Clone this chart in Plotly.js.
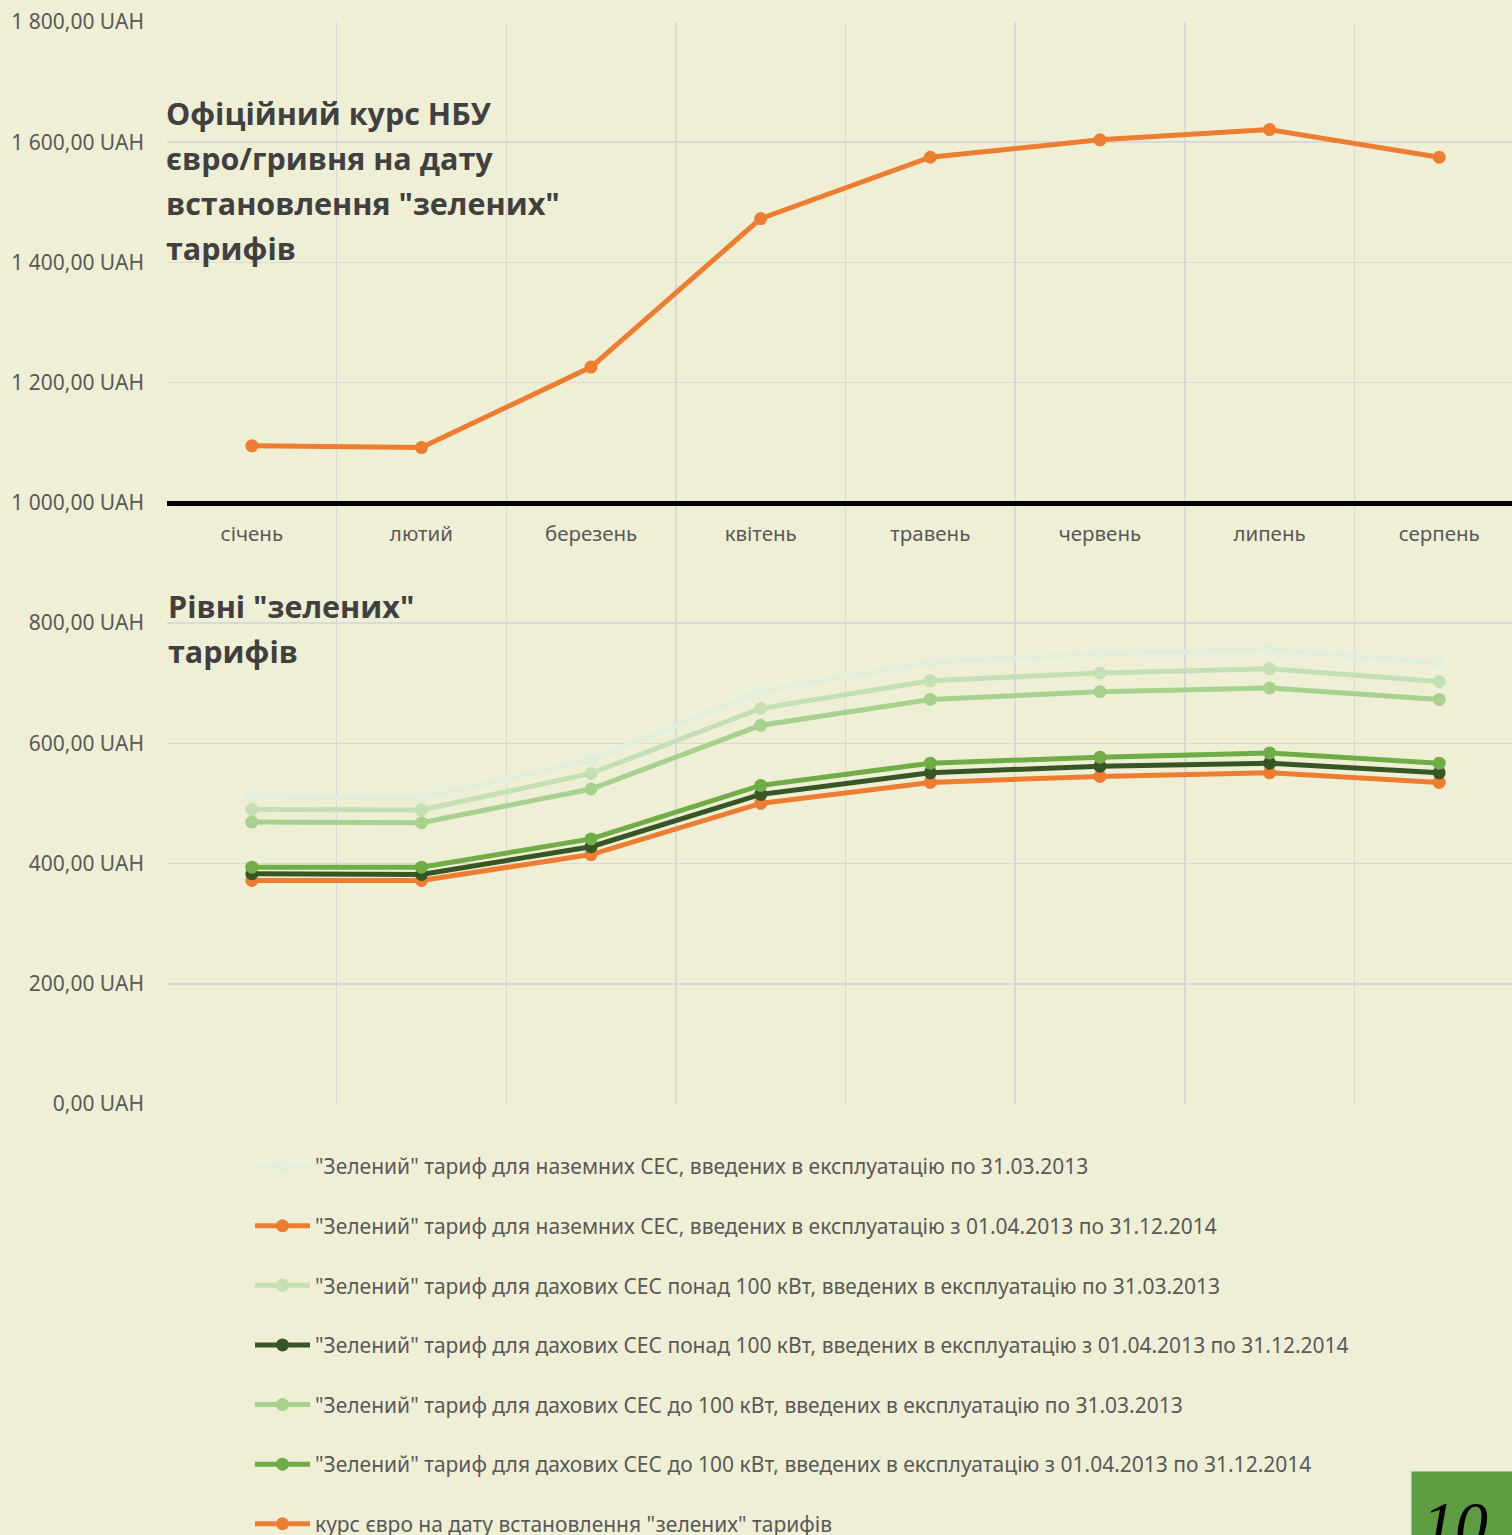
<!DOCTYPE html>
<html>
<head>
<meta charset="utf-8">
<script src="https://cdn.plot.ly/plotly-3.0.1.min.js"></script>
<style>
html,body{margin:0;padding:0;background:#efefd6;overflow:hidden;}
#chart{width:1524px;height:1535px;}
</style>
</head>
<body>
<div id="chart"></div>
<script>
// ---- data ----
const months = ['січень','лютий','березень','квітень','травень','червень','липень','серпень'];
const groundOld = [511, 509, 572, 687, 735, 749, 756, 734];
const groundNew = [372, 372, 415, 500, 535, 545, 551, 535];
const roofBigOld = [490, 489, 550, 658, 704, 717, 724, 703];
const roofBigNew = [383, 382, 428, 515, 551, 562, 567, 551];
const roofSmallOld = [469, 468, 524, 630, 673, 686, 692, 673];
const roofSmallNew = [394, 394, 441, 530, 567, 577, 584, 567];
const euroRate = [1095, 1092, 1226, 1473, 1575, 1604, 1621, 1575];

const seriesNames = [
  '"Зелений" тариф для наземних СЕС, введених в експлуатацію по 31.03.2013',
  '"Зелений" тариф для наземних СЕС, введених в експлуатацію з 01.04.2013 по 31.12.2014',
  '"Зелений" тариф для дахових СЕС понад 100 кВт, введених в експлуатацію по 31.03.2013',
  '"Зелений" тариф для дахових СЕС понад 100 кВт, введених в експлуатацію з 01.04.2013 по 31.12.2014',
  '"Зелений" тариф для дахових СЕС до 100 кВт, введених в експлуатацію по 31.03.2013',
  '"Зелений" тариф для дахових СЕС до 100 кВт, введених в експлуатацію з 01.04.2013 по 31.12.2014',
  'курс євро на дату встановлення "зелених" тарифів'
];
const seriesValues = [groundOld, groundNew, roofBigOld, roofBigNew, roofSmallOld, roofSmallNew, euroRate];
const seriesColors = ['#e2efda', '#ed7d31', '#c5e0b4', '#375623', '#a9d18e', '#70ad47', '#ed7d31'];

const titleTopLines = ['Офіційний курс НБУ', 'євро/гривня на дату', 'встановлення "зелених"', 'тарифів'];
const titleBottomLines = ['Рівні "зелених"', 'тарифів'];
const pageNumber = '10';

// ---- layout constants ----
const W = 1524, H = 1535;
const mL = 167, mR = 0, mT = 22, mB = 431;
const plotW = W - mL - mR, plotH = H - mT - mB;
const pxToPaperX = px => (px - mL) / plotW;
const pxToPaperY = py => (H - mB - py) / plotH;

const traces = seriesNames.map((name, i) => ({
  type: 'scatter',
  mode: 'lines+markers',
  name: name,
  x: months,
  y: seriesValues[i],
  legendgroup: 'g' + i,
  line: {color: seriesColors[i], width: 5},
  marker: {color: seriesColors[i], size: 13},
  hoverinfo: 'skip'
}));

const annotations = [];
const topY = [113, 158, 203, 248];
titleTopLines.forEach((t, i) => annotations.push({
  text: t, xref: 'paper', yref: 'paper', x: pxToPaperX(164), y: pxToPaperY(topY[i]),
  xanchor: 'left', yanchor: 'middle', showarrow: false,
  font: {family: 'Open Sans, Noto Sans, sans-serif', size: 30.5, color: '#404040', weight: 'bold'}
}));
const botY = [606, 651];
titleBottomLines.forEach((t, i) => annotations.push({
  text: t, xref: 'paper', yref: 'paper', x: pxToPaperX(166), y: pxToPaperY(botY[i]),
  xanchor: 'left', yanchor: 'middle', showarrow: false,
  font: {family: 'Open Sans, Noto Sans, sans-serif', size: 30.5, color: '#404040', weight: 'bold'}
}));
annotations.push({
  text: pageNumber, xref: 'paper', yref: 'paper', x: pxToPaperX(1420), y: pxToPaperY(1486),
  xanchor: 'left', yanchor: 'top', showarrow: false,
  font: {family: 'Liberation Serif, DejaVu Serif, serif', size: 66, color: '#000000', style: 'italic'}
});

const layout = {
  width: W, height: H,
  margin: {l: mL, r: mR, t: mT, b: mB, pad: 0, autoexpand: false},
  paper_bgcolor: '#efefd6',
  plot_bgcolor: '#efefd6',
  separators: ', ',
  showlegend: true,
  font: {family: 'Noto Sans, Open Sans, sans-serif', color: '#595959'},
  xaxis: {
    type: 'category',
    range: [-0.5, 7.5],
    anchor: 'free',
    position: 1000 / 1800,
    tickson: 'boundaries',
    showgrid: true,
    gridcolor: '#d9d9d9',
    gridwidth: 1.5,
    showline: true,
    linecolor: '#000000',
    linewidth: 5,
    ticks: '',
    ticklabelstandoff: 11,
    tickfont: {size: 20.5, color: '#595959'},
    zeroline: false,
    layer: 'below traces'
  },
  yaxis: {
    range: [0, 1800],
    dtick: 200,
    tick0: 0,
    tickformat: ',.2f',
    ticksuffix: ' UAH',
    showgrid: true,
    gridcolor: '#d9d9d9',
    gridwidth: 1.5,
    zeroline: false,
    showline: false,
    ticks: '',
    ticklabelstandoff: 22,
    tickfont: {size: 21, color: '#595959'}
  },
  legend: {
    x: pxToPaperX(250), y: pxToPaperY(1146),
    xanchor: 'left', yanchor: 'top',
    bgcolor: 'rgba(0,0,0,0)',
    traceorder: 'grouped',
    tracegroupgap: 29.3,
    itemwidth: 55,
    font: {size: 21, color: '#595959', family: 'Noto Sans, Open Sans, sans-serif'}
  },
  shapes: [{
    type: 'rect', xref: 'paper', yref: 'paper',
    x0: pxToPaperX(1410), x1: pxToPaperX(1560),
    y0: pxToPaperY(1600), y1: pxToPaperY(1470),
    fillcolor: '#5e9c42', line: {color: '#e9eedc', width: 3}
  }],
  annotations: annotations
};

Plotly.newPlot('chart', traces, layout, {displayModeBar: false, staticPlot: true});
</script>
</body>
</html>
